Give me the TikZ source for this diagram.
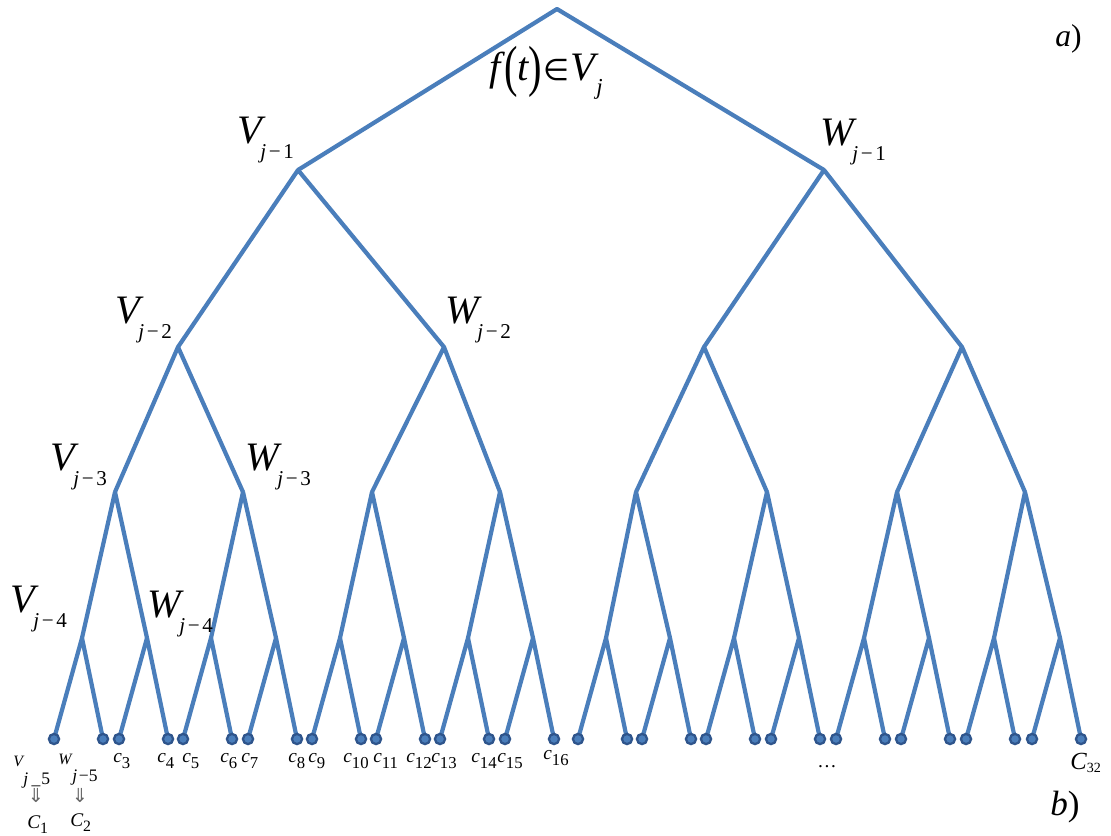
\documentclass[tikz,border=0pt]{standalone}
\usepackage{fontspec}
\setmainfont{Liberation Serif}
\newfontfamily\symfont{DejaVu Sans}
\definecolor{branchblue}{RGB}{74,126,187}
\definecolor{leafrim}{RGB}{47,85,140}
% space label V_{j-k}, W_{j-k}
\newcommand{\spacelbl}[2]{{\itshape #1}\kern-1pt\raisebox{-9pt}{\fontsize{12}{14}\selectfont{\itshape j}\kern1.5pt−\kern1.5pt#2}}
\begin{document}
\begin{tikzpicture}[x=0.02cm, y=-0.02cm,
    branch/.style={draw=branchblue, line width=2.4pt, line join=round},
    leaf/.style={circle, fill=branchblue, draw=leafrim, line width=1.3pt, inner sep=0pt, minimum size=5.8pt},
    lbl/.style={anchor=base west, inner sep=0pt, font=\fontsize{23}{26}\selectfont},
    clbl/.style={anchor=base west, inner sep=0pt, font=\fontsize{11}{12}\selectfont}]
    \useasboundingbox (0,0) rectangle (1111,835);

    % tree points, numbered as a heap
    \coordinate (n1) at (557,9);
    \foreach \x [count=\k from 2] in {298,824} \coordinate (n\k) at (\x,170);
    \foreach \x [count=\k from 4] in {178,444,704,962} \coordinate (n\k) at (\x,347);
    \foreach \x [count=\k from 8] in {115,243,372,500,636,767,897,1025} \coordinate (n\k) at (\x,492);
    \foreach \x [count=\k from 16] in {54,119,183,248,312,376,440,505,578,642,706,771,836,901,966,1032} {
        \pgfmathtruncatemacro\a{2*\k}
        \pgfmathtruncatemacro\b{2*\k+1}
        \coordinate (n\k) at (\x+28,638);
        \coordinate (n\a) at (\x,739);
        \coordinate (n\b) at (\x+49,739);
    }

    % branches
    \foreach \i in {1,...,31} {
        \pgfmathtruncatemacro\l{2*\i}
        \pgfmathtruncatemacro\r{2*\i+1}
        \draw[branch] (n\l) -- (n\i) -- (n\r);
    }

    % leaf dots
    \foreach \i in {32,...,63} \node[leaf] (d\i) at (n\i) {};

    % space labels
    \node[lbl] (fv) at (489,80) {{\itshape f}\kern2pt\raisebox{-3pt}{\scalebox{1}[1.4]{(}}{\itshape t}\raisebox{-3pt}{\scalebox{1}[1.4]{)}}\kern1pt{\symfont\fontsize{17}{20}\selectfont ∈}{\itshape V}\kern1pt\raisebox{-8pt}{\fontsize{13}{14}\selectfont\itshape j}};
    \node[lbl] (v1) at (237,143) {\spacelbl{V}{1}};
    \node[lbl] (w1) at (820,145) {\spacelbl{W}{1}};
    \node[lbl] (v2) at (115,323) {\spacelbl{V}{2}};
    \node[lbl] (w2) at (445,323) {\spacelbl{W}{2}};
    \node[lbl] (v3) at (50,470) {\spacelbl{V}{3}};
    \node[lbl] (w3) at (245,470) {\spacelbl{W}{3}};
    \node[lbl] (v4) at (10,612) {\spacelbl{V}{4}};
    \node[lbl] (w4) at (147,617) {\spacelbl{W}{4}};

    % coefficient labels
    \foreach \k/\x in {3/113, 4/157, 5/182, 6/220, 7/241, 8/288, 9/308, 10/343, 11/373, 12/406, 13/431, 14/471, 15/497}
        \node[clbl] (c\k) at (\x,762) {{\itshape c}\raisebox{-3.5pt}{\fontsize{9.5}{11}\selectfont\k}};
    \node[clbl] (c16) at (543,759) {{\itshape c}\raisebox{-3.5pt}{\fontsize{9.5}{11}\selectfont 16}};
    \node[clbl] (dots) at (817,767) {…};
    \node[clbl, font=\fontsize{14}{16}\selectfont] (c32) at (1070,769) {{\itshape C}\raisebox{-2pt}{\fontsize{8}{9}\selectfont 32}};

    % last level
    \node[clbl, font=\fontsize{9}{10}\selectfont] (v5) at (13,766) {\itshape V};
    \node[clbl, font=\fontsize{10}{11}\selectfont] (v5s) at (23,784) {{\itshape j}\kern2pt\_\kern0.5pt5};
    \node[clbl, font=\fontsize{9}{10}\selectfont] (w5) at (58,764) {\itshape W};
    \node[clbl, font=\fontsize{10}{11}\selectfont] (w5s) at (72,781) {{\itshape j}\kern1pt−5};
    \node[inner sep=0pt, text=black!60, font=\symfont\fontsize{11}{12}\selectfont] (v5a) at (36,795) {⇓};
    \node[inner sep=0pt, text=black!60, font=\symfont\fontsize{11}{12}\selectfont] (w5a) at (80,795) {⇓};
    \node[clbl] (c1) at (27,828) {{\itshape C}\raisebox{-3pt}{\fontsize{9}{10}\selectfont 1}};
    \node[clbl] (c2) at (70,826) {{\itshape C}\raisebox{-3pt}{\fontsize{9}{10}\selectfont 2}};

    % panel marks
    \node[lbl, font=\fontsize{18}{20}\selectfont] (pa) at (1055,46) {{\itshape a})};
    \node[lbl, font=\fontsize{20}{22}\selectfont] (pb) at (1050,815) {{\itshape b})};

\end{tikzpicture}
\end{document}
